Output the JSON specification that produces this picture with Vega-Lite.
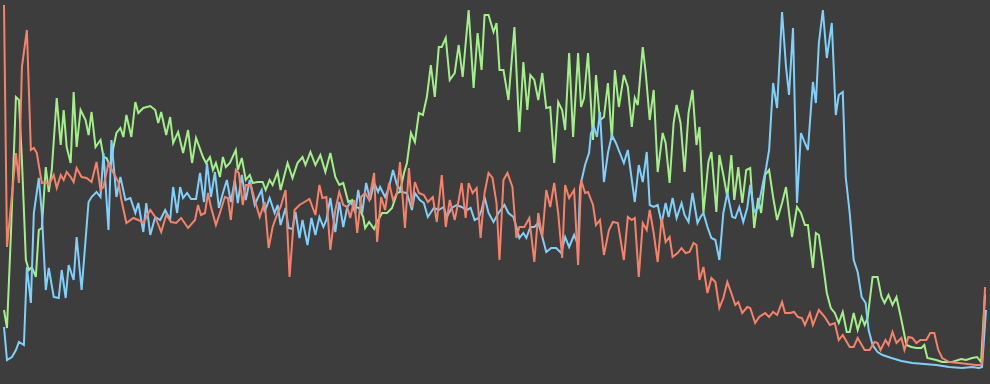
{
"$schema":"https://vega.github.io/schema/vega-lite/v6.json",
"width":990,"height":384,
"autosize":{"type":"fit","contains":"padding"},
"padding":0,
"background":"#3d3d3d",
"config":{"view":{"stroke":null},"axis":{"disable":true}},
"datasets":{
"green":[{"level":0,"count":74},{"level":3,"count":56},{"level":7,"count":151},{"level":12,"count":287},{"level":15,"count":284},{"level":18,"count":224},{"level":22,"count":124},{"level":25,"count":114},{"level":28,"count":117},{"level":32,"count":107},{"level":35,"count":154},{"level":38,"count":156},{"level":42,"count":217},{"level":45,"count":192},{"level":48,"count":214},{"level":53,"count":286},{"level":57,"count":239},{"level":60,"count":274},{"level":63,"count":237},{"level":67,"count":221},{"level":70,"count":292},{"level":73,"count":237},{"level":77,"count":274},{"level":82,"count":264},{"level":85,"count":249},{"level":88,"count":272},{"level":92,"count":237},{"level":97,"count":244},{"level":100,"count":227},{"level":103,"count":226},{"level":107,"count":217},{"level":110,"count":237},{"level":113,"count":251},{"level":117,"count":256},{"level":120,"count":247},{"level":123,"count":269},{"level":128,"count":247},{"level":132,"count":282},{"level":135,"count":271},{"level":140,"count":276},{"level":147,"count":278},{"level":152,"count":274},{"level":155,"count":261},{"level":158,"count":272},{"level":163,"count":249},{"level":167,"count":267},{"level":170,"count":241},{"level":175,"count":252},{"level":180,"count":231},{"level":185,"count":254},{"level":189,"count":221},{"level":193,"count":246},{"level":200,"count":227},{"level":203,"count":221},{"level":207,"count":227},{"level":210,"count":214},{"level":213,"count":221},{"level":217,"count":207},{"level":220,"count":227},{"level":223,"count":217},{"level":227,"count":221},{"level":233,"count":234},{"level":235,"count":214},{"level":239,"count":226},{"level":243,"count":204},{"level":247,"count":209},{"level":250,"count":201},{"level":255,"count":202},{"level":260,"count":202},{"level":263,"count":194},{"level":267,"count":204},{"level":270,"count":199},{"level":275,"count":212},{"level":278,"count":194},{"level":285,"count":221},{"level":290,"count":206},{"level":295,"count":221},{"level":300,"count":227},{"level":303,"count":219},{"level":308,"count":232},{"level":313,"count":219},{"level":318,"count":229},{"level":323,"count":212},{"level":328,"count":231},{"level":333,"count":207},{"level":337,"count":199},{"level":341,"count":201},{"level":346,"count":182},{"level":350,"count":184},{"level":353,"count":177},{"level":357,"count":176},{"level":361,"count":167},{"level":363,"count":156},{"level":367,"count":162},{"level":372,"count":155},{"level":375,"count":162},{"level":380,"count":171},{"level":385,"count":171},{"level":390,"count":176},{"level":395,"count":191},{"level":398,"count":192},{"level":402,"count":211},{"level":405,"count":221},{"level":409,"count":251},{"level":413,"count":242},{"level":417,"count":271},{"level":421,"count":269},{"level":425,"count":287},{"level":429,"count":319},{"level":433,"count":287},{"level":437,"count":337},{"level":440,"count":337},{"level":444,"count":346},{"level":448,"count":304},{"level":453,"count":311},{"level":457,"count":339},{"level":461,"count":307},{"level":467,"count":374},{"level":472,"count":296},{"level":476,"count":351},{"level":480,"count":314},{"level":483,"count":369},{"level":487,"count":369},{"level":492,"count":352},{"level":495,"count":361},{"level":498,"count":314},{"level":502,"count":314},{"level":507,"count":284},{"level":513,"count":357},{"level":518,"count":252},{"level":522,"count":322},{"level":526,"count":274},{"level":529,"count":309},{"level":533,"count":304},{"level":537,"count":284},{"level":541,"count":311},{"level":545,"count":276},{"level":549,"count":277},{"level":553,"count":221},{"level":557,"count":282},{"level":561,"count":274},{"level":564,"count":254},{"level":568,"count":331},{"level":572,"count":247},{"level":577,"count":331},{"level":580,"count":277},{"level":583,"count":286},{"level":587,"count":331},{"level":592,"count":244},{"level":595,"count":309},{"level":599,"count":264},{"level":603,"count":267},{"level":607,"count":301},{"level":611,"count":244},{"level":614,"count":314},{"level":618,"count":277},{"level":623,"count":309},{"level":627,"count":297},{"level":631,"count":257},{"level":634,"count":286},{"level":637,"count":279},{"level":642,"count":337},{"level":645,"count":311},{"level":649,"count":264},{"level":653,"count":294},{"level":657,"count":212},{"level":662,"count":251},{"level":665,"count":241},{"level":669,"count":201},{"level":673,"count":261},{"level":676,"count":279},{"level":680,"count":261},{"level":684,"count":212},{"level":688,"count":271},{"level":692,"count":294},{"level":696,"count":239},{"level":699,"count":257},{"level":703,"count":171},{"level":708,"count":222},{"level":711,"count":232},{"level":716,"count":172},{"level":719,"count":229},{"level":723,"count":209},{"level":727,"count":187},{"level":731,"count":229},{"level":734,"count":184},{"level":738,"count":217},{"level":742,"count":181},{"level":746,"count":214},{"level":750,"count":216},{"level":754,"count":156},{"level":758,"count":186},{"level":761,"count":171},{"level":765,"count":209},{"level":769,"count":214},{"level":773,"count":187},{"level":777,"count":164},{"level":782,"count":181},{"level":786,"count":197},{"level":789,"count":171},{"level":792,"count":147},{"level":797,"count":177},{"level":801,"count":171},{"level":805,"count":159},{"level":808,"count":159},{"level":813,"count":116},{"level":816,"count":151},{"level":819,"count":149},{"level":823,"count":121},{"level":827,"count":91},{"level":831,"count":76},{"level":835,"count":71},{"level":839,"count":61},{"level":843,"count":72},{"level":847,"count":52},{"level":850,"count":52},{"level":854,"count":71},{"level":858,"count":54},{"level":862,"count":67},{"level":865,"count":59},{"level":868,"count":66},{"level":873,"count":107},{"level":878,"count":107},{"level":882,"count":87},{"level":885,"count":81},{"level":889,"count":89},{"level":893,"count":79},{"level":897,"count":87},{"level":902,"count":64},{"level":907,"count":39},{"level":912,"count":37},{"level":917,"count":36},{"level":922,"count":36},{"level":925,"count":39},{"level":928,"count":26},{"level":937,"count":24},{"level":943,"count":22},{"level":953,"count":22},{"level":962,"count":25},{"level":967,"count":24},{"level":973,"count":26},{"level":978,"count":27},{"level":982,"count":22},{"level":986,"count":90}],
"blue":[{"level":0,"count":57},{"level":3,"count":24},{"level":8,"count":27},{"level":12,"count":34},{"level":15,"count":42},{"level":20,"count":39},{"level":23,"count":117},{"level":27,"count":81},{"level":30,"count":171},{"level":35,"count":206},{"level":38,"count":171},{"level":42,"count":94},{"level":45,"count":116},{"level":50,"count":87},{"level":55,"count":86},{"level":58,"count":114},{"level":62,"count":86},{"level":65,"count":119},{"level":70,"count":104},{"level":73,"count":147},{"level":78,"count":94},{"level":85,"count":182},{"level":88,"count":187},{"level":93,"count":192},{"level":97,"count":187},{"level":100,"count":231},{"level":105,"count":154},{"level":108,"count":244},{"level":113,"count":187},{"level":117,"count":207},{"level":122,"count":184},{"level":127,"count":186},{"level":132,"count":171},{"level":135,"count":181},{"level":140,"count":152},{"level":143,"count":181},{"level":147,"count":149},{"level":152,"count":167},{"level":157,"count":164},{"level":162,"count":174},{"level":167,"count":164},{"level":170,"count":197},{"level":174,"count":171},{"level":177,"count":197},{"level":180,"count":186},{"level":184,"count":191},{"level":188,"count":185},{"level":193,"count":185},{"level":197,"count":211},{"level":201,"count":182},{"level":204,"count":221},{"level":208,"count":187},{"level":212,"count":212},{"level":216,"count":176},{"level":220,"count":191},{"level":224,"count":204},{"level":228,"count":182},{"level":232,"count":204},{"level":235,"count":181},{"level":239,"count":209},{"level":243,"count":184},{"level":247,"count":204},{"level":252,"count":179},{"level":255,"count":186},{"level":259,"count":194},{"level":262,"count":172},{"level":267,"count":186},{"level":272,"count":171},{"level":275,"count":179},{"level":278,"count":159},{"level":283,"count":176},{"level":286,"count":156},{"level":290,"count":155},{"level":293,"count":172},{"level":297,"count":146},{"level":300,"count":164},{"level":305,"count":139},{"level":309,"count":166},{"level":313,"count":149},{"level":317,"count":167},{"level":321,"count":157},{"level":324,"count":164},{"level":328,"count":186},{"level":333,"count":152},{"level":337,"count":182},{"level":341,"count":157},{"level":345,"count":177},{"level":349,"count":182},{"level":353,"count":171},{"level":356,"count":194},{"level":360,"count":171},{"level":364,"count":201},{"level":368,"count":184},{"level":372,"count":201},{"level":376,"count":192},{"level":378,"count":197},{"level":383,"count":187},{"level":387,"count":197},{"level":391,"count":214},{"level":395,"count":199},{"level":400,"count":192},{"level":405,"count":191},{"level":410,"count":174},{"level":413,"count":191},{"level":418,"count":184},{"level":422,"count":181},{"level":426,"count":167},{"level":432,"count":176},{"level":437,"count":174},{"level":442,"count":177},{"level":445,"count":167},{"level":450,"count":176},{"level":455,"count":179},{"level":460,"count":177},{"level":465,"count":174},{"level":469,"count":176},{"level":473,"count":164},{"level":477,"count":166},{"level":480,"count":174},{"level":483,"count":187},{"level":487,"count":171},{"level":492,"count":162},{"level":497,"count":171},{"level":503,"count":179},{"level":507,"count":171},{"level":512,"count":167},{"level":515,"count":157},{"level":518,"count":146},{"level":522,"count":151},{"level":525,"count":146},{"level":529,"count":157},{"level":533,"count":157},{"level":537,"count":161},{"level":540,"count":151},{"level":545,"count":132},{"level":550,"count":136},{"level":555,"count":136},{"level":560,"count":131},{"level":564,"count":147},{"level":568,"count":137},{"level":573,"count":149},{"level":577,"count":139},{"level":579,"count":197},{"level":584,"count":219},{"level":588,"count":231},{"level":590,"count":251},{"level":593,"count":257},{"level":596,"count":247},{"level":599,"count":272},{"level":603,"count":202},{"level":607,"count":231},{"level":611,"count":249},{"level":615,"count":241},{"level":619,"count":231},{"level":623,"count":221},{"level":627,"count":234},{"level":631,"count":204},{"level":634,"count":182},{"level":638,"count":219},{"level":642,"count":202},{"level":646,"count":232},{"level":649,"count":179},{"level":653,"count":177},{"level":657,"count":179},{"level":661,"count":161},{"level":665,"count":181},{"level":668,"count":167},{"level":672,"count":186},{"level":676,"count":166},{"level":681,"count":181},{"level":684,"count":169},{"level":688,"count":162},{"level":692,"count":191},{"level":697,"count":161},{"level":700,"count":167},{"level":703,"count":171},{"level":707,"count":157},{"level":711,"count":146},{"level":715,"count":144},{"level":719,"count":124},{"level":723,"count":171},{"level":727,"count":191},{"level":732,"count":167},{"level":735,"count":166},{"level":739,"count":177},{"level":743,"count":162},{"level":747,"count":176},{"level":750,"count":199},{"level":754,"count":172},{"level":758,"count":176},{"level":763,"count":202},{"level":766,"count":216},{"level":769,"count":234},{"level":773,"count":301},{"level":777,"count":276},{"level":782,"count":372},{"level":786,"count":317},{"level":789,"count":289},{"level":793,"count":356},{"level":797,"count":181},{"level":801,"count":251},{"level":805,"count":241},{"level":808,"count":234},{"level":813,"count":302},{"level":816,"count":281},{"level":819,"count":341},{"level":823,"count":374},{"level":827,"count":326},{"level":832,"count":361},{"level":836,"count":269},{"level":839,"count":289},{"level":843,"count":292},{"level":846,"count":207},{"level":850,"count":171},{"level":854,"count":124},{"level":858,"count":112},{"level":862,"count":87},{"level":866,"count":81},{"level":869,"count":54},{"level":873,"count":39},{"level":878,"count":32},{"level":883,"count":29},{"level":892,"count":26},{"level":902,"count":23},{"level":913,"count":21},{"level":925,"count":20},{"level":937,"count":19},{"level":950,"count":17},{"level":963,"count":16},{"level":973,"count":17},{"level":980,"count":16},{"level":983,"count":17},{"level":987,"count":74}],
"red":[{"level":0,"count":379},{"level":3,"count":137},{"level":12,"count":231},{"level":15,"count":201},{"level":18,"count":317},{"level":23,"count":354},{"level":27,"count":234},{"level":30,"count":236},{"level":33,"count":231},{"level":38,"count":201},{"level":42,"count":202},{"level":45,"count":199},{"level":50,"count":209},{"level":53,"count":196},{"level":57,"count":209},{"level":60,"count":204},{"level":63,"count":212},{"level":67,"count":207},{"level":70,"count":202},{"level":73,"count":216},{"level":78,"count":207},{"level":83,"count":206},{"level":88,"count":202},{"level":93,"count":222},{"level":97,"count":194},{"level":100,"count":197},{"level":105,"count":221},{"level":110,"count":211},{"level":115,"count":202},{"level":118,"count":184},{"level":123,"count":161},{"level":130,"count":166},{"level":135,"count":164},{"level":140,"count":161},{"level":147,"count":174},{"level":152,"count":167},{"level":158,"count":152},{"level":163,"count":169},{"level":168,"count":162},{"level":173,"count":161},{"level":178,"count":166},{"level":185,"count":156},{"level":192,"count":164},{"level":195,"count":179},{"level":198,"count":169},{"level":202,"count":171},{"level":205,"count":191},{"level":208,"count":177},{"level":213,"count":159},{"level":217,"count":171},{"level":222,"count":187},{"level":225,"count":186},{"level":228,"count":164},{"level":233,"count":214},{"level":236,"count":211},{"level":240,"count":179},{"level":243,"count":199},{"level":248,"count":199},{"level":252,"count":184},{"level":257,"count":167},{"level":262,"count":182},{"level":266,"count":136},{"level":270,"count":157},{"level":275,"count":171},{"level":278,"count":177},{"level":283,"count":194},{"level":287,"count":107},{"level":292,"count":174},{"level":297,"count":179},{"level":302,"count":182},{"level":307,"count":185},{"level":313,"count":169},{"level":317,"count":199},{"level":320,"count":186},{"level":324,"count":187},{"level":328,"count":134},{"level":333,"count":174},{"level":337,"count":192},{"level":341,"count":179},{"level":345,"count":177},{"level":348,"count":166},{"level":352,"count":184},{"level":355,"count":151},{"level":359,"count":187},{"level":363,"count":191},{"level":367,"count":184},{"level":372,"count":211},{"level":375,"count":142},{"level":379,"count":187},{"level":383,"count":174},{"level":387,"count":201},{"level":391,"count":184},{"level":395,"count":191},{"level":398,"count":222},{"level":403,"count":156},{"level":407,"count":216},{"level":410,"count":177},{"level":413,"count":202},{"level":417,"count":191},{"level":422,"count":189},{"level":426,"count":182},{"level":431,"count":187},{"level":435,"count":162},{"level":440,"count":209},{"level":444,"count":157},{"level":448,"count":184},{"level":453,"count":164},{"level":457,"count":184},{"level":460,"count":201},{"level":464,"count":166},{"level":467,"count":201},{"level":471,"count":191},{"level":475,"count":196},{"level":479,"count":146},{"level":483,"count":191},{"level":487,"count":211},{"level":491,"count":206},{"level":495,"count":181},{"level":498,"count":124},{"level":502,"count":204},{"level":506,"count":211},{"level":511,"count":197},{"level":515,"count":146},{"level":518,"count":157},{"level":523,"count":157},{"level":528,"count":166},{"level":533,"count":122},{"level":537,"count":171},{"level":541,"count":147},{"level":545,"count":194},{"level":549,"count":177},{"level":553,"count":201},{"level":557,"count":171},{"level":561,"count":126},{"level":564,"count":199},{"level":568,"count":186},{"level":573,"count":194},{"level":577,"count":119},{"level":580,"count":204},{"level":584,"count":191},{"level":587,"count":192},{"level":592,"count":179},{"level":595,"count":159},{"level":599,"count":164},{"level":603,"count":129},{"level":608,"count":154},{"level":612,"count":162},{"level":617,"count":161},{"level":623,"count":124},{"level":627,"count":167},{"level":631,"count":164},{"level":634,"count":166},{"level":638,"count":107},{"level":642,"count":161},{"level":646,"count":154},{"level":649,"count":174},{"level":653,"count":151},{"level":657,"count":122},{"level":661,"count":166},{"level":665,"count":142},{"level":669,"count":147},{"level":672,"count":127},{"level":677,"count":131},{"level":681,"count":136},{"level":685,"count":131},{"level":689,"count":132},{"level":693,"count":141},{"level":696,"count":139},{"level":699,"count":104},{"level":703,"count":117},{"level":707,"count":91},{"level":711,"count":106},{"level":715,"count":102},{"level":719,"count":76},{"level":723,"count":86},{"level":727,"count":102},{"level":731,"count":91},{"level":735,"count":79},{"level":738,"count":82},{"level":742,"count":71},{"level":747,"count":77},{"level":750,"count":76},{"level":755,"count":61},{"level":759,"count":67},{"level":765,"count":71},{"level":769,"count":67},{"level":773,"count":72},{"level":777,"count":69},{"level":782,"count":82},{"level":785,"count":71},{"level":790,"count":71},{"level":794,"count":72},{"level":798,"count":67},{"level":802,"count":66},{"level":805,"count":59},{"level":810,"count":71},{"level":813,"count":59},{"level":819,"count":74},{"level":825,"count":67},{"level":830,"count":59},{"level":835,"count":61},{"level":839,"count":44},{"level":843,"count":49},{"level":850,"count":37},{"level":854,"count":37},{"level":858,"count":46},{"level":865,"count":34},{"level":870,"count":34},{"level":875,"count":42},{"level":878,"count":41},{"level":881,"count":34},{"level":886,"count":44},{"level":889,"count":39},{"level":893,"count":52},{"level":897,"count":41},{"level":902,"count":46},{"level":905,"count":34},{"level":909,"count":47},{"level":913,"count":46},{"level":917,"count":41},{"level":921,"count":44},{"level":927,"count":44},{"level":931,"count":51},{"level":935,"count":51},{"level":939,"count":34},{"level":943,"count":26},{"level":950,"count":22},{"level":960,"count":21},{"level":968,"count":20},{"level":977,"count":19},{"level":982,"count":19},{"level":983,"count":21},{"level":986,"count":97}]
},
"encoding":{
"x":{"field":"level","type":"quantitative","scale":{"domain":[0,990],"nice":false,"zero":false},"axis":null},
"y":{"field":"count","type":"quantitative","scale":{"domain":[0,384],"nice":false},"axis":null}
},
"layer":[
{"data":{"name":"green"},"mark":{"type":"line","color":"#a3f08a","strokeWidth":2,"clip":false}},
{"data":{"name":"blue"},"mark":{"type":"line","color":"#80d0fc","strokeWidth":2,"clip":false}},
{"data":{"name":"red"},"mark":{"type":"line","color":"#f7826a","strokeWidth":2,"clip":false}}
]
}
